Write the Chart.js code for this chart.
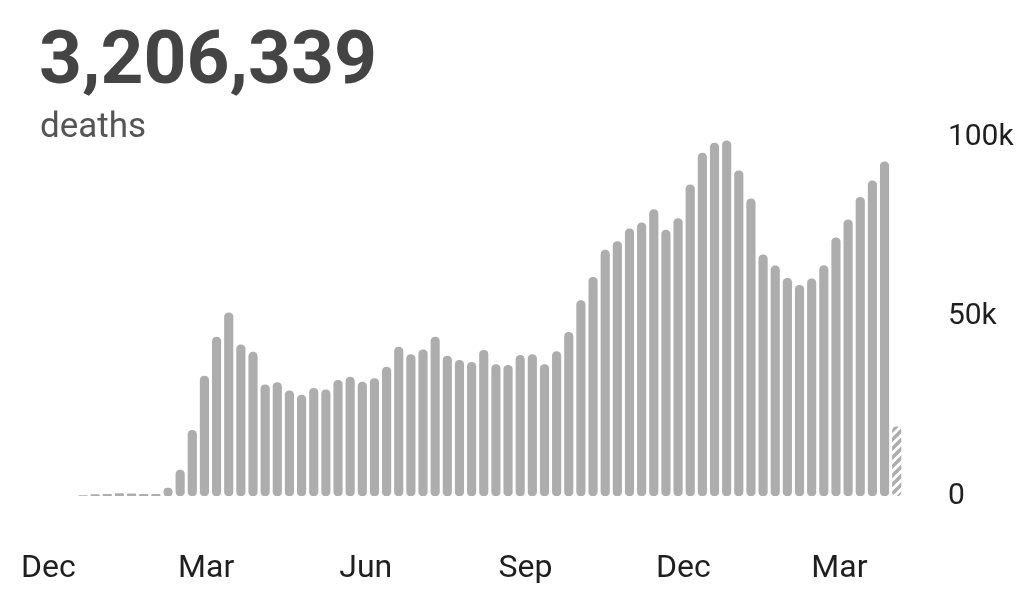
<!DOCTYPE html>
<html>
<head>
<meta charset="utf-8">
<script src="https://cdn.jsdelivr.net/npm/chart.js@4.4.1/dist/chart.umd.min.js"></script>
<style>
  html, body { margin: 0; padding: 0; background: #ffffff; }
  #wrap { width: 1026px; height: 592px; }
</style>
</head>
<body>
<div id="wrap"><canvas id="deathsChart" width="1026" height="592"></canvas></div>
<script>
// weekly deaths, first bar = week centred on 21 Dec 2019, last week still in progress
const firstWeek = Date.UTC(2019, 11, 21);
const weeklyDeaths = [
  150, 400, 500, 700, 600, 500, 500, 2200, 7200, 18300,
  33400, 44300, 51000, 42100, 40100, 31000, 31600, 29300, 28100, 30000,
  29600, 32200, 33100, 31700, 32700, 35900, 41500, 39400, 40700, 44300,
  39000, 37800, 37200, 40600, 36600, 36400, 39200, 39400, 36600, 40200,
  45600, 54400, 60900, 68500, 70900, 74400, 76100, 79800, 74100, 77300,
  86700, 95500, 98300, 98900, 90600, 82800, 67200, 64100, 60600, 58700,
  60500, 64200, 71900, 76900, 83200, 87800, 93100, 19300
];
const partialWeek = weeklyDeaths.length - 1;

const monthLabels = ['Dec', 'Mar', 'Jun', 'Sep', 'Dec', 'Mar'];
const monthDates = [
  Date.UTC(2019, 11, 1), Date.UTC(2020, 2, 1), Date.UTC(2020, 5, 1),
  Date.UTC(2020, 8, 1), Date.UTC(2020, 11, 1), Date.UTC(2021, 2, 1)
];
const yTicks = [0, 50000, 100000];
const yTickLabels = ['0', '50k', '100k'];

const totalDeaths = '3,206,339';
const totalLabel = 'deaths';

// month starts expressed in weeks from the first bar
const monthPos = monthDates.map(d => (d - firstWeek) / (7 * 86400000));

// diagonal stripes for the unfinished week
function hatchPattern() {
  const s = 9;
  const c = document.createElement('canvas');
  c.width = s;
  c.height = s;
  const g = c.getContext('2d');
  g.fillStyle = '#ffffff';
  g.fillRect(0, 0, s, s);
  g.strokeStyle = '#adadad';
  g.lineWidth = 3.4;
  g.beginPath();
  g.moveTo(-1, s + 1); g.lineTo(s + 1, -1);
  g.moveTo(-s / 2 - 1, s / 2 + 1); g.lineTo(s / 2 + 1, -s / 2 - 1);
  g.moveTo(s / 2 - 1, s * 1.5 + 1); g.lineTo(s * 1.5 + 1, s / 2 - 1);
  g.stroke();
  return document.getElementById('deathsChart').getContext('2d').createPattern(c, 'repeat');
}
const hatch = hatchPattern();

const headline = {
  id: 'headline',
  afterDraw(chart) {
    const ctx = chart.ctx;
    ctx.save();
    ctx.textAlign = 'left';
    ctx.textBaseline = 'alphabetic';
    ctx.fillStyle = '#444444';
    ctx.font = 'bold 75px Roboto';
    ctx.fillText(totalDeaths, 39, 83);
    ctx.fillStyle = '#555555';
    ctx.font = '35px Roboto';
    ctx.fillText(totalLabel, 40, 137);
    ctx.restore();
  }
};

const ctx = document.getElementById('deathsChart').getContext('2d');
const chart = new Chart(ctx, {
  type: 'bar',
  data: {
    datasets: [{
      label: 'deaths',
      data: weeklyDeaths.map((v, i) => ({ x: i, y: v })),
      backgroundColor: c => (c.dataIndex === partialWeek ? hatch : '#adadad'),
      borderRadius: 4.25,
      borderSkipped: false,
      barThickness: 8.5
    }]
  },
  options: {
    responsive: false,
    animation: false,
    layout: { padding: { top: 137, left: 34.4, right: 0, bottom: 0 } },
    plugins: {
      legend: { display: false },
      tooltip: { enabled: false }
    },
    scales: {
      x: {
        type: 'linear',
        offset: false,
        min: -4,
        max: 68.5,
        grid: { display: false, drawTicks: false },
        border: { display: false },
        afterBuildTicks: scale => {
          scale.ticks = monthPos.map(v => ({ value: v }));
        },
        afterFit: scale => {
          scale.height = 96;
          scale.paddingLeft = 0;
          scale.paddingRight = 0;
        },
        ticks: {
          autoSkip: false,
          maxRotation: 0,
          padding: 54,
          color: '#1f1f1f',
          font: { family: 'Roboto', size: 32 },
          callback: (value, index) => monthLabels[index]
        }
      },
      y: {
        position: 'right',
        min: 0,
        max: 100000,
        grid: { display: false, drawTicks: false },
        border: { display: false },
        afterBuildTicks: scale => {
          scale.ticks = yTicks.map(v => ({ value: v }));
        },
        afterFit: scale => { scale.width = 111.1; },
        ticks: {
          crossAlign: 'near',
          padding: 33,
          color: '#1f1f1f',
          font: { family: 'Roboto', size: 30 },
          callback: (value, index) => yTickLabels[index]
        }
      }
    }
  },
  plugins: [headline]
});
</script>
</body>
</html>
